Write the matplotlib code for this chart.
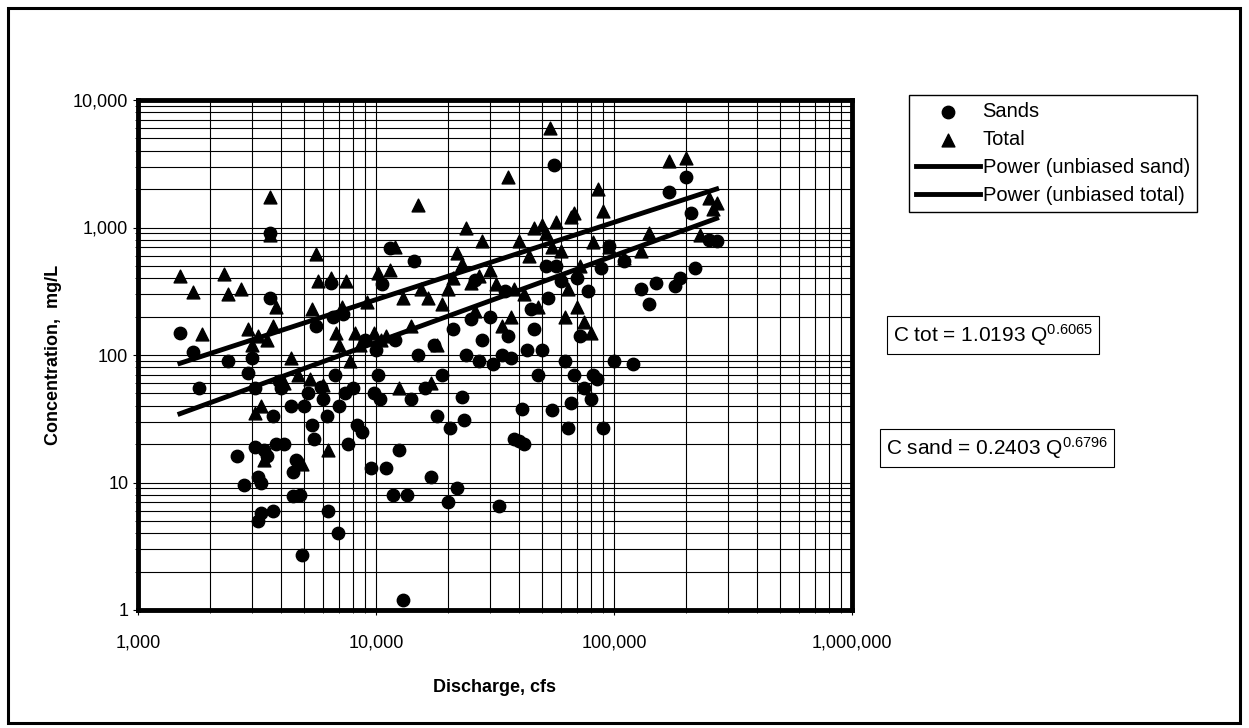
import matplotlib
matplotlib.use("Agg")
import matplotlib.pyplot as plt
import numpy as np
from matplotlib.patches import Rectangle
from matplotlib.ticker import FuncFormatter, LogLocator

plt.rcParams["font.family"] = ["Liberation Sans", "DejaVu Sans"]
plt.rcParams["mathtext.fontset"] = "custom"
plt.rcParams["mathtext.rm"] = "Liberation Sans"
plt.rcParams["mathtext.it"] = "Liberation Sans"
plt.rcParams["mathtext.default"] = "rm"

# Sands: (discharge cfs, concentration mg/L)
sand_q = [1500, 1700, 1800, 2400, 2600, 2800, 2900, 3000, 3100, 3100, 3200, 3200, 3300, 3300,
          3400, 3500, 3600, 3600, 3700, 3700, 3800, 3900, 4000, 4100, 4400, 4500, 4500, 4600,
          4800, 4900, 5000, 5200, 5400, 5500, 5600, 5900, 6000, 6200, 6300, 6500, 6600, 6700,
          6900, 7000, 7300, 7400, 7600, 8000, 8300, 8700, 9000, 9500, 9800, 10000, 10200, 10400,
          10600, 11000, 11500, 11800, 12000, 12500, 13000, 13500, 14000, 14500, 15000, 16000,
          17000, 17500, 18000, 19000, 20000, 20500, 21000, 22000, 23000, 23500, 24000, 25000,
          26000, 27000, 28000, 30000, 31000, 33000, 34000, 35000, 36000, 37000, 38000, 40000,
          41000, 42000, 43000, 45000, 46000, 48000, 50000, 52000, 53000, 55000, 56000, 57000,
          60000, 62000, 64000, 66000, 68000, 70000, 72000, 75000, 78000, 80000, 82000, 85000,
          88000, 90000, 95000, 100000, 110000, 120000, 130000, 140000, 150000, 170000, 180000,
          190000, 200000, 210000, 220000, 250000, 270000]
sand_c = [150, 105, 55, 90, 16, 9.5, 72, 95, 55, 19, 11, 5, 10, 5.8,
          18, 16, 280, 900, 33, 6, 20, 62, 55, 20, 40, 12, 7.8, 15,
          8, 2.7, 40, 50, 28, 22, 170, 56, 45, 33, 6, 370, 200, 70,
          4, 40, 210, 50, 20, 55, 28, 25, 130, 13, 50, 110, 70, 45,
          360, 13, 690, 8, 130, 18, 1.2, 8, 45, 550, 100, 55,
          11, 120, 33, 70, 7, 27, 160, 9, 47, 31, 100, 190,
          390, 90, 130, 200, 85, 6.5, 100, 320, 140, 95, 22, 21,
          38, 20, 110, 230, 160, 70, 110, 500, 280, 37, 3100, 500,
          380, 90, 27, 42, 70, 400, 140, 55, 320, 45, 70, 65,
          480, 27, 720, 90, 550, 85, 330, 250, 370, 1900, 350,
          400, 2500, 1300, 480, 800, 780]

# Total: (discharge cfs, concentration mg/L)
total_q = [1500, 1700, 1850, 2300, 2400, 2700, 2900, 3000, 3100, 3200, 3300, 3400, 3500, 3600,
           3600, 3700, 3800, 4100, 4400, 4700, 4900, 5300, 5400, 5600, 5700, 6000, 6300, 6500,
           6800, 7000, 7200, 7500, 7800, 8200, 8600, 9200, 9800, 10200, 10500, 11000, 11500,
           12000, 12500, 13000, 14000, 15000, 15500, 16500, 17000, 18000, 19000, 20000, 21000,
           22000, 23000, 24000, 25000, 26000, 27000, 28000, 30000, 32000, 34000, 36000, 37000,
           38000, 40000, 42000, 44000, 46000, 48000, 50000, 52000, 54000, 55000, 57000, 60000,
           62000, 64000, 66000, 68000, 70000, 72000, 75000, 80000, 82000, 86000, 90000, 95000,
           110000, 130000, 140000, 170000, 200000, 230000, 250000, 260000, 270000]
total_c = [420, 310, 145, 430, 300, 330, 160, 120, 35, 140, 40, 15, 130, 1750,
           870, 170, 240, 60, 95, 70, 14, 65, 230, 620, 380, 58, 18, 400,
           150, 120, 240, 380, 90, 150, 120, 260, 150, 440, 130, 140, 460,
           700, 55, 280, 170, 1500, 330, 280, 60, 120, 250, 330, 400,
           630, 520, 1000, 370, 220, 420, 780, 460, 360, 170, 2500, 200,
           330, 780, 300, 600, 1000, 240, 1050, 900, 6000, 700, 1100, 660,
           200, 330, 1200, 1300, 240, 500, 180, 150, 770, 2000, 1350, 700,
           580, 650, 900, 3300, 3500, 870, 1700, 1400, 1550]

# power-law fits (from the chart's equations)
tot_a, tot_b = 1.0193, 0.6065
sand_a, sand_b = 0.2403, 0.6796
fit_range = [1500, 270000]

W, H = 1249, 728
fig = plt.figure(figsize=(W / 100, H / 100), dpi=100)
fig.patches.append(Rectangle((8 / W, 5 / H), 1232 / W, 715 / H, transform=fig.transFigure,
                             fill=False, lw=2.2, ec="black"))
ax = fig.add_axes([138 / W, 1 - 610 / H, (852 - 138) / W, (610 - 100) / H])

qq = np.geomspace(fit_range[0], fit_range[1], 50)
ax.scatter(sand_q, sand_c, marker="o", s=80, color="black", zorder=3, label="Sands")
ax.scatter(total_q, total_c, marker="^", s=85, color="black", zorder=3, label="Total")
ax.plot(qq, sand_a * qq ** sand_b, color="black", lw=3.5, zorder=4, label="Power (unbiased sand)")
ax.plot(qq, tot_a * qq ** tot_b, color="black", lw=3.5, zorder=4, label="Power (unbiased total)")

ax.set_xscale("log")
ax.set_yscale("log")
ax.set_xlim(1000, 1e6)
ax.set_ylim(1, 10000)
fmt = FuncFormatter(lambda v, p: f"{v:,.0f}")
ax.xaxis.set_major_formatter(fmt)
ax.yaxis.set_major_formatter(fmt)
ax.xaxis.set_minor_locator(LogLocator(subs=np.arange(2, 10)))
ax.yaxis.set_minor_locator(LogLocator(subs=np.arange(2, 10)))
ax.xaxis.set_minor_formatter(plt.NullFormatter())
ax.yaxis.set_minor_formatter(plt.NullFormatter())
ax.grid(True, which="both", color="black", lw=0.8)
ax.tick_params(labelsize=13)
ax.tick_params(axis="x", pad=14)
for s in ax.spines.values():
    s.set_linewidth(3.5)
ax.set_xlabel("Discharge, cfs", fontsize=13, fontweight="bold", labelpad=20)
ax.set_ylabel("Concentration,  mg/L", fontsize=13, fontweight="bold", labelpad=8)

fig.legend(loc="upper left", bbox_to_anchor=(909 / W, 1 - 95 / H), fontsize=14.5,
           frameon=True, fancybox=False, edgecolor="black", framealpha=1,
           handlelength=3.2, handletextpad=0.1, borderpad=0.35, borderaxespad=0,
           labelspacing=0.45)

box = dict(boxstyle="square,pad=0.3", fc="white", ec="black", lw=0.8)
fig.text(893 / W, 1 - 335 / H, "C tot = 1.0193 Q$^{0.6065}$", fontsize=15, va="center", bbox=box)
fig.text(886 / W, 1 - 448 / H, "C sand = 0.2403 Q$^{0.6796}$", fontsize=15, va="center", bbox=box)

fig.savefig("out.png", dpi=100)
